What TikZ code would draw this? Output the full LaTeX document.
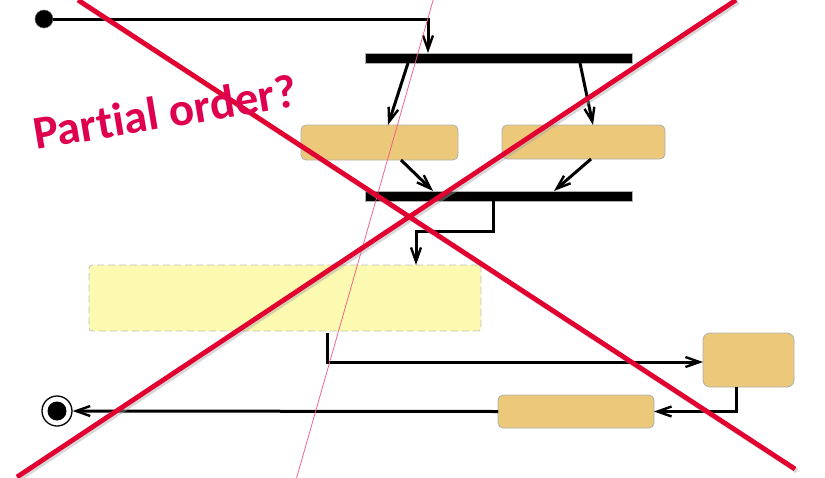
\documentclass[tikz,border=0pt]{standalone}
\usepackage{fontspec}
\setmainfont{Carlito}[Ligatures=NoCommon]
\usetikzlibrary{arrows.meta}
\definecolor{actfill}{RGB}{235,200,122}
\definecolor{regionfill}{RGB}{252,249,176}
\definecolor{edgegray}{RGB}{175,175,175}
\definecolor{crossred}{RGB}{226,0,48}
\definecolor{notered}{RGB}{222,0,78}
\definecolor{thinpink}{RGB}{240,90,130}
\begin{document}
\begin{tikzpicture}[x=1pt,y=-1pt,
  flow/.style={line width=3pt,-{Straight Barb[length=14pt,width=10pt,line width=2.4pt]}},
  action/.style={draw=edgegray,line width=0.8pt,fill=actfill,rounded corners=5pt,
    inner sep=0pt,outer sep=0pt,anchor=north west},
  syncbar/.style={draw=edgegray,line width=0.6pt,fill=black,inner sep=0pt,outer sep=0pt,
    anchor=north west,minimum width=267pt,minimum height=10pt},
  region/.style={draw=edgegray!80,dashed,dash pattern=on 7pt off 4pt,line width=0.8pt,
    fill=regionfill,rounded corners=3pt,inner sep=0pt,outer sep=0pt,anchor=north west},
  crossline/.style={crossred,line width=4.8pt},
  crossshadow/.style={black!35,opacity=0.45,line width=5pt}]
\useasboundingbox (0,0) rectangle (825,477);
\clip (0,0) rectangle (825,477);

% initial and final nodes
\node[circle,fill=black,draw=black!60,line width=0.6pt,minimum size=18pt,inner sep=0pt] (start) at (44,19) {};
\node[circle,draw=black,line width=1.3pt,fill=white,minimum size=30pt,inner sep=0pt,
  path picture={\fill[black] (path picture bounding box.center) circle (9.5pt);}] (final) at (57,411) {};

% fork and join bars
\node[syncbar] (fork) at (365,53) {};
\node[syncbar] (join) at (365,191) {};

% actions
\node[action,minimum width=157pt,minimum height=35pt] (actA) at (301,125) {};
\node[action,minimum width=163pt,minimum height=34pt] (actB) at (502,125) {};
\node[region,minimum width=392pt,minimum height=66pt] (area) at (89,265) {};
\node[action,rounded corners=7pt,minimum width=91pt,minimum height=54pt] (actC) at (703,333) {};
\node[action,minimum width=156pt,minimum height=33pt] (actD) at (498,395) {};

% control flows
\draw[flow] (start.east) -| ([xshift=63pt]fork.north west);
\draw[flow] ([xshift=43pt]fork.south west) -- ([xshift=87pt]actA.north west);
\draw[flow] ([xshift=215pt]fork.south west) -- ([xshift=91pt]actB.north west);
\draw[flow] ([xshift=100pt]actA.south west) -- ([xshift=68pt]join.north west);
\draw[flow] ([xshift=89pt]actB.south west) -- ([xshift=189pt]join.north west);
\draw[flow] ([xshift=128pt]join.south west) -- ++(0,30) -| ([xshift=327pt]area.north west);
\draw[flow] ([xshift=238pt,yshift=-2pt]area.south west) |- ([yshift=-2pt]actC.west);
\draw[flow] ([xshift=33pt]actC.south west) |- (actD.east);
\draw[flow] (actD.west) -- (final.east);

% strike-through overlay
\draw[thinpink,line width=0.7pt] (296,480) -- (434,-3);
\draw[crossshadow] (19,479) -- (738,2);
\draw[crossshadow] (80,2) -- (797,471);
\draw[crossline] (17,477) -- (736,0);
\draw[crossline] (78,0) -- (795,469);
\node[anchor=base west,rotate=9.5,text=notered,inner sep=0pt,font=\bfseries\fontsize{47}{56}\selectfont] (note) at (36,150) {Partial order?};
\end{tikzpicture}
\end{document}
